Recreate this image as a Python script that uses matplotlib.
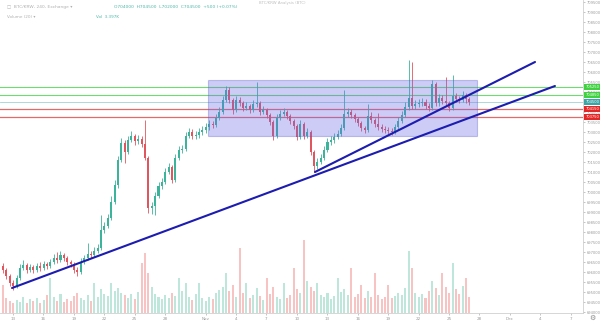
import matplotlib
matplotlib.use("Agg")
import matplotlib.pyplot as plt
from matplotlib.patches import Rectangle
import matplotlib.transforms as mtransforms

# ---------------- data ----------------
closes = [
    696100, 695800, 695450, 695300, 695700, 696200, 696350, 696100, 696250, 696100,
    696300, 696200, 696400, 696300, 696500, 696700, 696600, 696850, 696700, 696500,
    696400, 696100, 696000, 696500, 696700, 696900, 696850, 697050, 697200, 698100,
    698300, 698700, 699500, 700350, 701600, 702450, 702000, 702600, 702800, 702550,
    702650, 702400, 701700, 699200, 699300, 699800, 700300, 700500, 701000, 701250,
    700600, 701700, 702100, 702150, 702800, 703000, 702800, 702850, 703000, 703100,
    703250, 703400, 703350, 703700, 704000, 704600, 705100, 704600, 704100, 704600,
    704450, 704200, 704300, 704100, 704400, 704450, 704000, 704100, 703850, 703500,
    702800, 703700, 703900, 704000, 703800, 703550, 703300, 702750, 703400, 702800,
    703000, 702000, 701300, 701500, 701700, 702100, 702500, 702600, 702750, 702900,
    703200, 703900, 704000, 703850, 703650, 703450, 703200, 703100, 703800, 703600,
    703400, 703250, 703150, 703100, 703050, 703000, 703250, 703550, 703850, 704250,
    704700, 704300, 704400, 704450, 704500, 704300, 704200, 705400, 704450, 704700,
    704550, 704450, 704200, 704800, 704650, 704600, 704850, 704650, 704500,
]
first_open = 696300
opens = [first_open] + closes[:-1]

highs = [
    696450, 696200, 695900, 695600, 695850, 696400, 696600, 696450, 696400, 696350,
    696450, 696500, 696550, 696500, 696650, 696900, 697000, 697050, 696950, 696800,
    696600, 696500, 696250, 696700, 696850, 697450, 697050, 697250, 697400, 698850,
    698500, 698900, 699800, 700600, 701800, 702700, 702600, 702800, 703050, 702900,
    702850, 702800, 703600, 701800, 699500, 700000, 700500, 700700, 701200, 701450,
    701350, 701900, 702300, 702350, 703000, 703200, 703150, 703050, 703200, 703300,
    703450, 703600, 703550, 703900, 704250, 704800, 705300, 705250, 704700, 704800,
    704750, 704550, 704500, 704400, 704600, 705500, 704550, 704300, 704200, 703950,
    703600, 703900, 704100, 704200, 704100, 703900, 703650, 703400, 703600, 703500,
    703200, 703100, 702100, 701700, 701900, 702300, 702700, 702800, 702950, 703100,
    703400, 705100, 704200, 704150, 703950, 703750, 703550, 703300, 704400, 704000,
    703700, 703950, 703400, 703300, 703250, 703200, 703400, 703750, 704050, 704500,
    706600, 706500, 704600, 704650, 704700, 704650, 704450, 705600, 705500, 704900,
    704850, 705750, 704550, 705850, 704950, 704800, 705050, 704950, 704750,
]
lows = [
    695950, 695650, 695300, 695100, 695200, 695600, 696100, 695950, 696000, 695950,
    696000, 696050, 696100, 696150, 696200, 696400, 696450, 696500, 696550, 696350,
    696250, 695950, 695800, 695900, 696400, 696600, 696700, 696750, 696950, 697100,
    697950, 698200, 698600, 699400, 700200, 701500, 701450, 701900, 702500, 702350,
    702400, 702250, 701600, 698950, 698900, 698850, 699700, 700150, 700400, 700900,
    700450, 700500, 701600, 701950, 702050, 702700, 702650, 702650, 702700, 702850,
    702950, 703100, 703200, 703250, 703600, 703900, 704500, 704450, 703900, 704000,
    704300, 704050, 704100, 703950, 704000, 704250, 703850, 703900, 703700, 703350,
    702600, 702700, 703600, 703800, 703650, 703400, 703150, 702600, 702650, 702650,
    702700, 701850, 701000, 701150, 701400, 701600, 702000, 702350, 702450, 702650,
    702800, 703100, 703750, 703700, 703500, 703300, 703050, 702950, 703000, 703450,
    703250, 703100, 703000, 702950, 702900, 702850, 702900, 703150, 703450, 703750,
    704100, 704150, 704150, 704250, 704300, 704150, 704050, 704100, 704300, 704300,
    704400, 704300, 704050, 704100, 704500, 704450, 704500, 704450, 704350,
]
volumes = [
    2.8, 1.5, 1.2, 1.0, 1.3, 1.1, 1.6, 1.0, 1.4, 1.2,
    1.5, 1.0, 1.3, 1.8, 3.5, 1.6, 1.2, 1.9, 1.1, 1.4,
    1.2, 1.7, 2.0, 1.5, 1.3, 1.8, 1.2, 3.0, 1.6, 2.4,
    1.9, 1.7, 3.0, 2.2, 2.5, 2.0, 1.8, 1.5, 1.9, 1.4,
    2.1, 5.0, 6.0, 4.0, 2.6, 1.9, 1.6, 1.4, 1.8, 1.5,
    2.0, 1.7, 3.5, 2.2, 3.0, 1.6, 1.3, 1.9, 3.0, 1.5,
    1.2, 1.6, 1.4, 2.0, 2.3, 2.6, 4.0, 2.2, 2.8, 1.6,
    6.5, 2.0, 3.0, 1.5, 1.8, 2.5, 1.7, 1.3, 3.5, 1.9,
    2.6, 1.6, 1.4, 3.0, 1.5, 1.8, 4.5, 2.4, 2.0, 7.3,
    3.2, 2.6, 2.2, 3.0, 1.8, 1.6, 2.0, 1.4, 1.7, 3.5,
    2.1, 2.4, 1.8, 4.5, 1.6, 1.9, 2.8, 1.5, 2.2, 1.6,
    4.0, 1.8, 1.4, 1.6, 2.8, 1.5, 1.7, 2.0, 1.8, 2.5,
    6.2, 4.5, 2.0, 1.6, 1.9, 1.5, 2.2, 3.2, 2.5, 1.8,
    4.0, 2.6, 2.0, 5.0, 2.4, 1.9, 2.7, 3.5, 1.6,
]

# time axis: candle index (8h bars); ticks given as day-of-period values
start_day = 11.02           # day (Oct 1 = 0) of the first candle
bars_per_day = 3
tick_days = [12, 15, 18, 21, 24, 27, 31, 34, 37, 40, 43, 46, 49, 52, 55, 58, 61, 64, 67]
tick_labels = ['13', '16', '19', '22', '25', '28', 'Nov', '4', '7', '10', '13', '16',
               '19', '22', '25', '28', 'Dec', '4', '7']

# horizontal levels
green_levels = [705250, 704850]
last_price = 704500
red_levels = [704150, 703750]

# range box (bar index, price)
box_x = [60.5, 140.2]
box_y = [702800, 705600]

# trend lines (bar index, price)
trend1_x = [2.66, 163.3]
trend1_y = [695200, 705300]
trend2_x = [92.3, 157.4]
trend2_y = [701000, 706500]

# ---------------- style ----------------
UP = '#3cb39b'
DOWN = '#e0555e'
VUP = '#bfe6da'
VDOWN = '#f7c3c3'
AXC = '#9a9a9a'

W, H = 600, 324
fig = plt.figure(figsize=(W / 100, H / 100), dpi=100)
fig.patch.set_facecolor('white')

rect = [0, 11 / H, 583 / W, 313 / H]
axv = fig.add_axes(rect, zorder=0)
ax = fig.add_axes(rect, zorder=1)
ax.patch.set_alpha(0)

n = len(closes)
idx = list(range(n))
xlim = (-0.9, 171.6)

# volume
vcols = [VUP if c >= o else VDOWN for o, c in zip(opens, closes)]
axv.bar(idx, volumes, width=0.6, color=vcols, linewidth=0)
axv.set_xlim(*xlim)
axv.set_ylim(0, 31.3)
axv.axis('off')

# candles
cols = [UP if c >= o else DOWN for o, c in zip(opens, closes)]
ax.vlines(idx, lows, highs, colors=cols, linewidth=0.6, zorder=2)
bottoms = [min(o, c) for o, c in zip(opens, closes)]
heights = [max(abs(c - o), 40) for o, c in zip(opens, closes)]
ax.bar(idx, heights, bottom=bottoms, width=0.6, color=cols, linewidth=0, zorder=3)

# levels
for lv in green_levels:
    ax.axhline(lv, color='#6fdc6f', linewidth=0.8, zorder=1)
ax.axhline(last_price, color='#9fd3d8', linewidth=0.6, zorder=1)
for lv in red_levels:
    ax.axhline(lv, color='#e46a6a', linewidth=0.9, zorder=1)

# range box
ax.add_patch(Rectangle((box_x[0], box_y[0]), box_x[1] - box_x[0], box_y[1] - box_y[0],
                       facecolor='#6a6ae8', alpha=0.34, edgecolor='#5a5acc',
                       linewidth=0.8, zorder=4))

# trend lines
ax.plot(trend1_x, trend1_y, color='#1c1cb0', linewidth=1.5, zorder=5, solid_capstyle='round')
ax.plot(trend2_x, trend2_y, color='#1c1cb0', linewidth=1.5, zorder=5, solid_capstyle='round')

ax.set_xlim(*xlim)
ax.set_ylim(693950, 709600)

# axes styling
for s in ['top', 'left']:
    ax.spines[s].set_visible(False)
ax.spines['right'].set_color('#d0d0d0')
ax.spines['bottom'].set_color('#d0d0d0')
ax.spines['right'].set_linewidth(0.6)
ax.spines['bottom'].set_linewidth(0.6)

ax.yaxis.tick_right()
yt = list(range(694000, 709600, 500))
ax.set_yticks(yt)
ax.set_yticklabels([str(v) for v in yt])
ax.tick_params(axis='y', labelsize=2.6, colors=AXC, length=1.5, width=0.4, pad=1)

xt = [(d - start_day) * bars_per_day for d in tick_days]
ax.set_xticks(xt)
ax.set_xticklabels(tick_labels)
ax.tick_params(axis='x', labelsize=3.0, colors=AXC, length=1.5, width=0.4, pad=1.5)

# price labels on axis
trans = mtransforms.blended_transform_factory(ax.transAxes, ax.transData)
def tag(price, color):
    ax.text(1.004, price, str(price), transform=trans, fontsize=2.6, color='white',
            va='center', ha='left', zorder=10, clip_on=False,
            bbox=dict(boxstyle='square,pad=0.35', facecolor=color, edgecolor='none'))
for lv in green_levels:
    tag(lv, '#3fd13f')
tag(last_price, '#3aa5a5')
for lv in red_levels:
    tag(lv, '#e52626')

# header texts
fig.text(0.012, 0.985, '\u25a1  BTC/KRW, 240, Exchange \u25be', fontsize=3.2, color='#b0b0b0',
         va='top', ha='left')
fig.text(0.19, 0.985, 'O704000  H704500  L702000  C704500  +500 (+0.07%)', fontsize=3.2,
         color='#4fb8a8', va='top', ha='left')
fig.text(0.012, 0.955, 'Volume (20) \u25be', fontsize=3.0, color='#b0b0b0', va='top', ha='left')
fig.text(0.16, 0.955, 'Vol  3.397K', fontsize=3.0, color='#4fb8a8', va='top', ha='left')
fig.text(0.47, 0.997, 'BTC/KRW Analysis (BTC)', fontsize=2.8, color='#c0c0c0',
         va='top', ha='center')
fig.text(0.987, 0.018, '\u2699', fontsize=5, color='#888888', va='center', ha='center')

fig.savefig('out.png', dpi=100)
